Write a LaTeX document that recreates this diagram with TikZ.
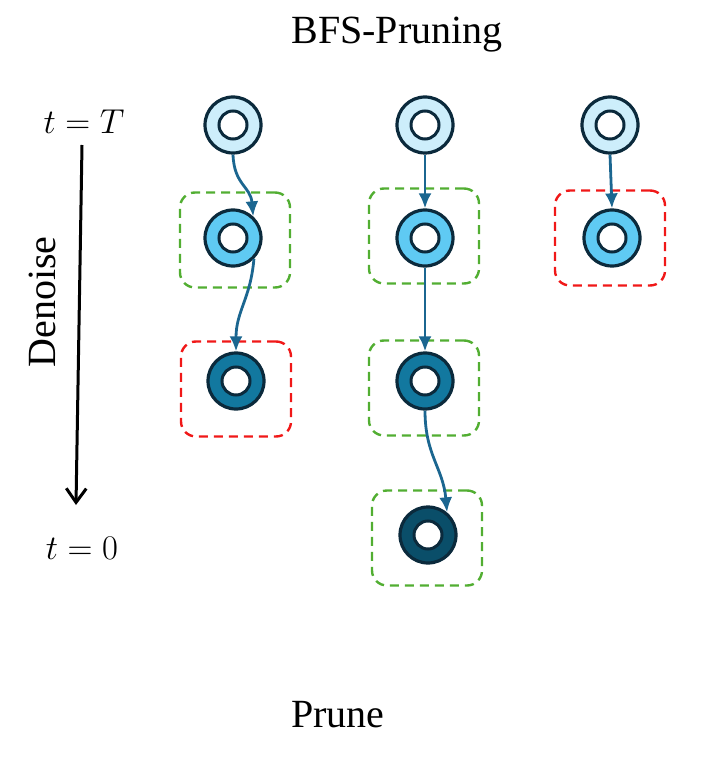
\documentclass[tikz,border=0pt]{standalone}
\usepackage{fontspec}
\setmainfont{Liberation Serif}
\usetikzlibrary{calc, positioning, arrows.meta}
\definecolor{ringline}{HTML}{0B2A3C}
\definecolor{lvlA}{HTML}{CDEEFB}
\definecolor{lvlB}{HTML}{5FCAF3}
\definecolor{lvlC}{HTML}{12789F}
\definecolor{lvlD}{HTML}{0A4E69}
\definecolor{edgeblue}{HTML}{1B6690}
\definecolor{keepgreen}{HTML}{52AE32}
\definecolor{prunered}{HTML}{F01818}

\tikzset{
  ring/.style={circle, draw=ringline, line width=1.6pt, minimum size=28pt, inner sep=0pt,
    path picture={\draw[ringline, line width=1.5pt, fill=white] (path picture bounding box.center) circle (7pt);}},
  keep/.style={draw=keepgreen, dashed, dash pattern=on 4.5pt off 3pt, line width=1.2pt, rounded corners=7.5pt,
    minimum width=55pt, minimum height=47.5pt},
  prune/.style={keep, draw=prunered},
  trans/.style={-{Latex[length=7.5pt,width=6.5pt]}, draw=edgeblue, line width=1.4pt},
  lbl/.style={font=\fontsize{20}{24}\selectfont},
  mlbl/.style={font=\fontsize{17}{20}\selectfont}
}

\begin{document}
\begin{tikzpicture}[x=0.5pt, y=-0.5pt]
  \useasboundingbox (0,0) rectangle (720,780);

  % labels %
  \node[lbl] (title) at (397,35) {BFS-Pruning};
  \node[lbl] (prunelbl) at (338,715) {Prune};
  \node[mlbl] (tT) at (84,122) {$t = T$};
  \node[mlbl] (t0) at (82,548) {$t = 0$};
  \node[lbl, rotate=90] (denoise) at (42,302) {Denoise};
  \coordinate (dtop) at (82,145);
  \coordinate (dbot) at (76,505);
  \draw[-{Straight Barb[length=7pt,width=10pt]}, line width=1.5pt] (dtop) -- (dbot);

  % boxes %
  \node[keep] (ka2) at (235,240) {};
  \node[prune] (pa3) at (236,389) {};
  \node[keep] (kb2) at (424,236) {};
  \node[keep] (kb3) at (424,388) {};
  \node[keep] (kb4) at (427,538) {};
  \node[prune] (pc2) at (610,238) {};

  % nodes %
  \node[ring, fill=lvlA] (a1) at (233,125) {};
  \node[ring, fill=lvlB] (a2) at (233,238) {};
  \node[ring, fill=lvlC] (a3) at (236,381) {};
  \node[ring, fill=lvlA] (b1) at (425,125) {};
  \node[ring, fill=lvlB] (b2) at (425,238) {};
  \node[ring, fill=lvlC] (b3) at (425,381) {};
  \node[ring, fill=lvlD] (b4) at (428,535) {};
  \node[ring, fill=lvlA] (c1) at (610,125) {};
  \node[ring, fill=lvlB] (c2) at (612,238) {};

  % edges %
  \draw[trans] (a1.south) to[out=-88, in=95, looseness=1.2] (a2.47);
  \draw[trans] (a2.-45) to[out=-95, in=90, looseness=1.1] (a3.north);
  \draw[trans] (b1.south) -- (b2.north);
  \draw[trans] (b2.south) -- (b3.north);
  \draw[trans] (b3.south) to[out=-90, in=95, looseness=1.1] (b4.50);
  \draw[trans] (c1.south) -- (c2.north);
\end{tikzpicture}
\end{document}
